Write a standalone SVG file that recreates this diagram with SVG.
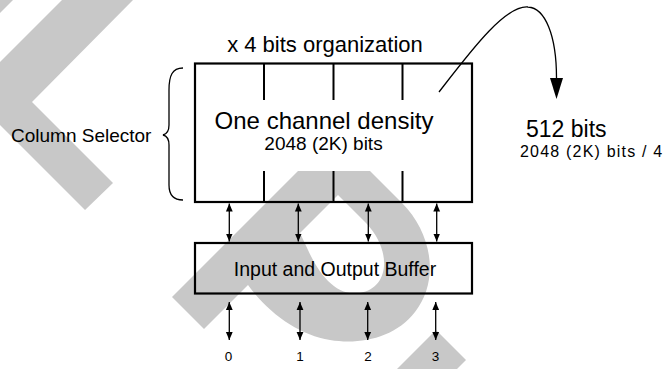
<svg xmlns="http://www.w3.org/2000/svg" width="669" height="369" viewBox="0 0 669 369">
<style>
.wm{fill:#c8c8c8;stroke:none}
.box{fill:none;stroke:#000;stroke-width:2.2}
.div{stroke:#000;stroke-width:2;fill:none}
.ln{stroke:#000;stroke-width:1.3;fill:none}
.t{font-family:"Liberation Sans",Arial,sans-serif;fill:#000}
</style>
<defs>
<marker id="ah" viewBox="0 0 8 8" refX="8" refY="4" markerWidth="8" markerHeight="8" markerUnits="userSpaceOnUse" orient="auto-start-reverse">
<path d="M0,0.6 L8,4 L0,7.4 Z" fill="#000"/>
</marker>
</defs>
<g id="watermark">
<polygon class="wm" points="0,0 13,0 0,13"/>
<polygon class="wm" points="62,0 133,0 32,102 113,183 85,210 0,125 0,62"/>
<path class="wm" fill-rule="evenodd" d="M172,297 L298,171 L370,171 L402,203 C432,233 440,280 415,312 C395,338 360,345 330,340 C300,335 270,315 248,285 L204,329 Z M338,195 L366,223 C392,250 390,288 360,293 C335,297 318,272 308,250 L300,233 Z"/>
<polygon class="wm" points="436,330 466,360 457,369 397,369"/>
</g>
<g id="title"><text class="t" x="325" y="52" font-size="22" text-anchor="middle">x 4 bits organization</text></g>
<g id="density-block">
<rect class="box" x="195" y="63.5" width="277" height="138.5"/>
<path class="div" d="M264,63.5 V100 M333.5,63.5 V100 M402.5,63.5 V100 M264,171 V202 M333.5,171 V202 M402.5,171 V202"/>
<text class="t" x="324" y="129" font-size="24" text-anchor="middle">One channel density</text>
<text class="t" x="323.5" y="150" font-size="19" text-anchor="middle">2048 (2K) bits</text>
</g>
<g id="column-selector">
<path class="ln" d="M183,68 C172,68 169,76 169,90 L169,125 C169,131 167,134 163,135 C167,136 169,139 169,145 L169,185 C169,195 173,200 183,200" stroke-width="1.2"/>
<text class="t" x="11" y="142" font-size="19">Column Selector</text>
</g>
<g id="buffer">
<rect class="box" x="195" y="243" width="277" height="50.5"/>
<text class="t" x="335" y="276" font-size="19.5" text-anchor="middle">Input and Output Buffer</text>
</g>
<g id="result">
<text class="t" x="526" y="137" font-size="23">512 bits</text>
<text class="t" x="520" y="157" font-size="16" letter-spacing="1.2">2048 (2K) bits / 4</text>
</g>
<g id="pins">
<text class="t" x="228.5" y="361" font-size="13.5" text-anchor="middle">0</text>
<text class="t" x="300" y="361" font-size="13.5" text-anchor="middle">1</text>
<text class="t" x="368" y="361" font-size="13.5" text-anchor="middle">2</text>
<text class="t" x="435.5" y="361" font-size="13.5" text-anchor="middle">3</text>
</g>
<g id="connectors">
<path class="ln" marker-start="url(#ah)" marker-end="url(#ah)" d="M229.3,203.5 V241.5"/>
<path class="ln" marker-start="url(#ah)" marker-end="url(#ah)" d="M298.3,203.5 V241.5"/>
<path class="ln" marker-start="url(#ah)" marker-end="url(#ah)" d="M368.3,203.5 V241.5"/>
<path class="ln" marker-start="url(#ah)" marker-end="url(#ah)" d="M436.7,203.5 V241.5"/>
<path class="ln" marker-start="url(#ah)" marker-end="url(#ah)" d="M229.3,302 V340"/>
<path class="ln" marker-start="url(#ah)" marker-end="url(#ah)" d="M300,302 V340"/>
<path class="ln" marker-start="url(#ah)" marker-end="url(#ah)" d="M367.7,302 V340"/>
<path class="ln" marker-start="url(#ah)" marker-end="url(#ah)" d="M435.7,302 V340"/>
<path class="ln" stroke-width="1" d="M439,92 C470,52 505,5 528,7 C545,8 556.5,35 556.5,78"/>
<polygon points="550,78 563,78 556.5,99" fill="#000"/>
</g>
</svg>
